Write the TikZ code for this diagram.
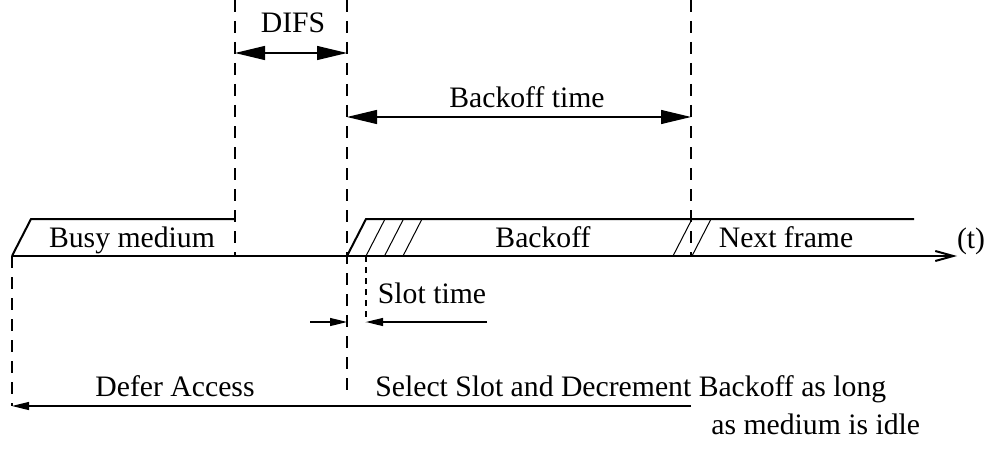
\documentclass[tikz,border=0pt]{standalone}
\usepackage{fontspec}
\setmainfont{Liberation Serif}
\usetikzlibrary{arrows.meta}

\begin{document}
\begin{tikzpicture}[x=0.5pt, y=-0.5pt, font=\fontsize{14.85pt}{17pt}\selectfont]
        \tikzstyle{axis} = [line width=1pt, -{Straight Barb[length=9pt, width=5pt]}]
        \tikzstyle{frame} = [line width=1pt]
        \tikzstyle{hatch} = [line width=0.5pt]
        \tikzstyle{marker} = [line width=1pt, dash pattern=on 6pt off 4.5pt]
        \tikzstyle{slotmarker} = [line width=0.8pt, dash pattern=on 3pt off 2.5pt]
        \tikzstyle{span} = [line width=0.6pt, {Triangle[length=15pt, width=7pt]}-{Triangle[length=15pt, width=7pt]}]
        \tikzstyle{pointer} = [line width=0.6pt, -{Triangle[length=8.5pt, width=4pt]}]
        \tikzstyle{label} = [inner sep=0pt, anchor=base]

\useasboundingbox (0,0) rectangle (989,449);

\coordinate (busyStart) at (12,256);
        \coordinate (difsStart) at (235,256);
        \coordinate (difsEnd) at (347,256);
        \coordinate (slotEnd) at (366,256);
        \coordinate (backoffEnd) at (691,256);
        \coordinate (axisEnd) at (957,256);

\coordinate (difsTop) at (235,0);
        \coordinate (idleTop) at (347,0);
        \coordinate (idleBottom) at (347,397);
        \coordinate (backoffTop) at (691,0);
        \coordinate (deferLeft) at (12,406);
        \coordinate (deferRight) at (691,406);
        \coordinate (slotBottom) at (366,322);

\draw[frame] (busyStart) -- ++(19,-37) -- (difsStart |- 0,219);
        \draw[frame] (difsEnd) -- ++(19,-37) -- (914,219);
        \foreach \x in {366,384.5,403,673,692}
            \draw[hatch] (\x,256) -- ++(19,-37);

\draw[axis] (busyStart) -- (axisEnd);

\draw[marker] (difsTop) -- (difsStart);
        \draw[marker] (idleTop) -- (idleBottom);
        \draw[marker] (backoffTop) -- (backoffEnd);
        \draw[marker] (busyStart) -- (deferLeft);
        \draw[slotmarker] (slotEnd) -- (slotBottom);

\draw[span] (difsTop |- 0,53) -- (idleTop |- 0,53);
        \draw[span] (idleTop |- 0,117) -- (backoffTop |- 0,117);
        \draw[pointer] (310,322) -- (idleBottom |- slotBottom);
        \draw[pointer] (487,322) -- (slotBottom);
        \draw[pointer] (deferRight) -- (deferLeft);

\node[label] (busy) at (132,247) {Busy medium};
        \node[label] (backoff) at (543,247) {Backoff};
        \node[label] (next) at (786,247) {Next frame};
        \node[label] (time) at (971,248) {(t)};
        \node[label] (difs) at (293,33) {DIFS};
        \node[label] (backofftime) at (527,107) {Backoff time};
        \node[label] (slot) at (432,303) {Slot time};
        \node[label] (defer) at (175,396) {Defer Access};
        \node[label, anchor=base west] (select) at (375,396) {Select Slot and Decrement Backoff as long};
        \node[label, anchor=base west] (idle) at (711,434) {as medium is idle};

    \end{tikzpicture}
\end{document}
